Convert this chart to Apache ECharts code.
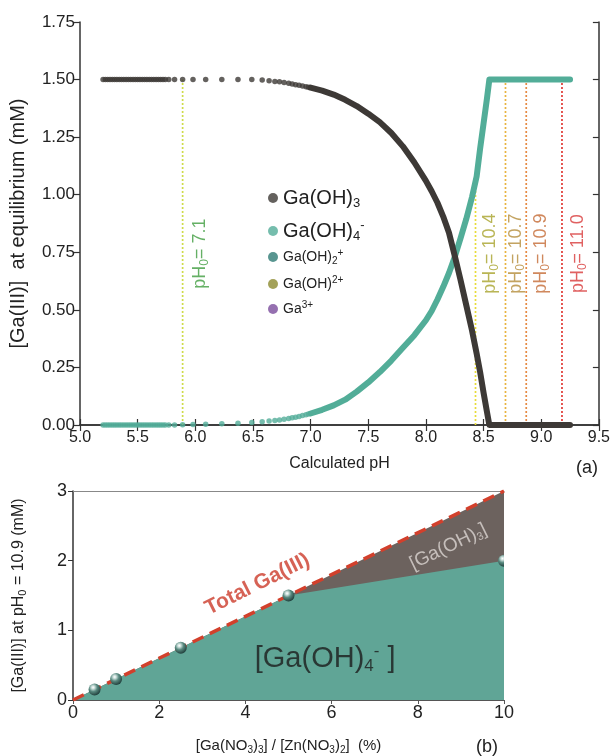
<!DOCTYPE html>
<html><head><meta charset="utf-8">
<script src="https://cdn.jsdelivr.net/npm/echarts@6/dist/echarts.min.js"></script>
<style>html,body{margin:0;padding:0;background:#fff}#c{width:613px;height:756px}</style>
</head><body><div id="c"></div>
<script>
// ================= Panel (a): speciation vs calculated pH =================
// Individually visible points (low pH region)
const dotPH = [5.20,5.22,5.24,5.26,5.28,5.30,5.32,5.34,5.36,5.38,5.40,5.42,5.44,5.46,5.48,5.50,5.52,5.54,5.56,5.58,5.60,5.62,5.64,5.66,5.68,5.70,5.72,5.74,
  5.77,5.82,5.89,5.98,6.09,6.23,6.37,6.49,6.58,6.64,6.69,6.73,6.77,6.81,6.84,6.87,6.90,6.93,6.96,6.98];
const dotGaOH3 = [1.5,1.5,1.5,1.5,1.5,1.5,1.5,1.5,1.5,1.5,1.5,1.5,1.5,1.5,1.5,1.5,1.5,1.5,1.5,1.5,1.5,1.5,1.5,1.5,1.5,1.5,1.5,1.5,
  1.5,1.5,1.5,1.5,1.5,1.5,1.5,1.5,1.498,1.495,1.492,1.49,1.487,1.484,1.481,1.478,1.475,1.472,1.469,1.467];
const dotGaOH4 = [0,0,0,0,0,0,0,0,0,0,0,0,0,0,0,0,0,0,0,0,0,0,0,0,0,0,0,0,
  0,0,0.001,0.002,0.003,0.005,0.008,0.011,0.014,0.017,0.02,0.022,0.025,0.028,0.031,0.034,0.037,0.041,0.045,0.048];
// Dense region (points merge into a continuous curve)
const linePH = [7.00,7.10,7.20,7.30,7.40,7.50,7.60,7.70,7.80,7.90,8.00,8.05,8.10,8.15,8.20,8.25,8.30,8.35,8.40,8.44,8.47,8.50,8.53,8.55,8.70,8.90,9.10,9.25];
const lineGaOH3 = [1.465,1.452,1.435,1.412,1.385,1.352,1.315,1.268,1.21,1.14,1.06,1.015,0.965,0.905,0.835,0.735,0.63,0.52,0.41,0.31,0.23,0.14,0.055,0,0,0,0,0];
const lineGaOH4 = [0.05,0.066,0.085,0.11,0.145,0.185,0.23,0.28,0.335,0.39,0.455,0.495,0.545,0.60,0.66,0.73,0.81,0.895,0.99,1.08,1.2,1.31,1.42,1.5,1.5,1.5,1.5,1.5];
// Reference lines for initial pH0
const refPH = [5.89, 8.43, 8.69, 8.87, 9.18];
const refTop = [1.5, 1.08, 1.5, 1.5, 1.5];
const refPH0 = ['7.1', '10.4', '10.7', '10.9', '11.0'];

// ================= Panel (b): Ga(III) at pH0 = 10.9 =================
const ratioPct = [0, 0.5, 1, 2.5, 5, 10];
const totalGa = [0, 0.15, 0.3, 0.75, 1.5, 3.0];
const gaOH4b = [0, 0.15, 0.3, 0.75, 1.5, 2.0];

// ---------------- styles ----------------
const FONT = "'Liberation Sans', Arial, sans-serif";
const C_DARK = '#3d3936', C_TEAL = '#52ad98';
const refLineColors = ['#cfdc4a', '#e8dc3a', '#e8b440', '#e68a44', '#e03a34'];
const refTextColors = ['#3f9c3f', '#a8a22a', '#b48c3a', '#c46a34', '#d83a3a'];
const refLabelPos = [6.04, 8.56, 8.78, 9.00, 9.32];
const refLabelY = 0.744;

const pairs = (xs, ys) => xs.map((x, i) => [x, ys[i]]);

const chart = echarts.init(document.getElementById('c'), null, {renderer: 'canvas'});

const axisDark = {lineStyle: {color: '#333', width: 1.5}};

const names = {
  g3: 'Ga(OH)3', g4: 'Ga(OH)4-', g2p: 'Ga(OH)2+', g1: 'Ga(OH)2+ ion', g0: 'Ga3+'
};
const legendFmt = {
  'Ga(OH)3': '{b|Ga(OH)}{bs|3}',
  'Ga(OH)4-': '{b|Ga(OH)}{bs|4}{bp|-}',
  'Ga(OH)2+': '{s|Ga(OH)}{ss|2}{sp|+}',
  'Ga(OH)2+ ion': '{s|Ga(OH)}{sp|2+}',
  'Ga3+': '{s|Ga}{sp|3+}'
};
const legendRich = {
  b: {fontSize: 20, lineHeight: 24, color: '#222', fontFamily: FONT},
  bs: {fontSize: 13, lineHeight: 12, verticalAlign: 'bottom', padding: [12, 0, 0, 0], color: '#222', fontFamily: FONT},
  bp: {fontSize: 13, lineHeight: 12, verticalAlign: 'top', color: '#222', fontFamily: FONT},
  s: {fontSize: 14, lineHeight: 18, color: '#222', fontFamily: FONT},
  ss: {fontSize: 10, lineHeight: 9, verticalAlign: 'bottom', padding: [9, 0, 0, 0], color: '#222', fontFamily: FONT},
  sp: {fontSize: 10, lineHeight: 9, verticalAlign: 'top', color: '#222', fontFamily: FONT}
};

const option = {
  animation: false,
  backgroundColor: '#fff',
  textStyle: {fontFamily: FONT},
  legend: [
    {
      data: [names.g3, names.g4], orient: 'vertical', left: 263, top: 180,
      icon: 'circle', itemWidth: 10, itemHeight: 10, itemGap: 8,
      formatter: n => legendFmt[n], textStyle: {rich: legendRich}, selectedMode: false
    },
    {
      data: [names.g2p, names.g1, names.g0], orient: 'vertical', left: 263, top: 242,
      icon: 'circle', itemWidth: 10, itemHeight: 10, itemGap: 9,
      formatter: n => legendFmt[n], textStyle: {rich: legendRich}, selectedMode: false
    }
  ],
  grid: [
    {left: 73, right: 12, top: 22, bottom: 331},
    {left: 73, right: 109, top: 491, bottom: 50}
  ],
  xAxis: [
    {
      gridIndex: 0, type: 'value', min: 5, max: 9.5, interval: 0.5, position: 'bottom',
      name: 'Calculated pH', nameLocation: 'middle', nameGap: 31,
      nameTextStyle: {fontSize: 16, color: '#222', fontFamily: FONT},
      axisLine: axisDark, axisTick: {inside: true, length: 6, lineStyle: {color: '#333', width: 1.2}},
      axisLabel: {fontSize: 16, color: '#222', margin: 5, formatter: v => v.toFixed(1), fontFamily: FONT},
      splitLine: {show: false}
    },
    {
      gridIndex: 0, type: 'value', min: 5, max: 9.5, interval: 0.5, position: 'top',
      axisLine: axisDark, axisTick: {inside: true, length: 6, lineStyle: {color: '#333', width: 1.2}},
      axisLabel: {show: false}, splitLine: {show: false}
    },
    {
      gridIndex: 1, type: 'value', min: 0, max: 10, interval: 2, position: 'bottom',
      name: '[Ga(NO{s|3}){s|3}] / [Zn(NO{s|3}){s|2}]  (%)', nameLocation: 'middle', nameGap: 37,
      nameTextStyle: {fontSize: 15, color: '#222', fontFamily: FONT,
        rich: {s: {fontSize: 10, verticalAlign: 'bottom', padding: [8, 0, 0, 0], color: '#222', fontFamily: FONT}}},
      axisLine: {lineStyle: {color: '#555', width: 1.2}},
      axisTick: {inside: false, length: 4, lineStyle: {color: '#555'}},
      axisLabel: {fontSize: 18, color: '#222', margin: 4, fontFamily: FONT},
      splitLine: {show: false}
    },
    {
      gridIndex: 1, type: 'value', min: 0, max: 10, position: 'top',
      axisLine: {lineStyle: {color: '#888', width: 1}}, axisTick: {show: false},
      axisLabel: {show: false}, splitLine: {show: false}
    }
  ],
  yAxis: [
    {
      gridIndex: 0, type: 'value', min: 0, max: 1.75, interval: 0.25, position: 'left',
      name: '[Ga(III)]  at equilibrium (mM)', nameLocation: 'middle', nameGap: 52, nameRotate: 90,
      nameTextStyle: {fontSize: 20, color: '#222', fontFamily: FONT},
      axisLine: axisDark, axisTick: {inside: false, length: 6, lineStyle: {color: '#333', width: 1.2}},
      axisLabel: {fontSize: 17, color: '#222', margin: 5, formatter: v => v.toFixed(2), fontFamily: FONT},
      splitLine: {show: false}
    },
    {
      gridIndex: 0, type: 'value', min: 0, max: 1.75, interval: 0.25, position: 'right',
      axisLine: axisDark, axisTick: {inside: true, length: 6, lineStyle: {color: '#333', width: 1.2}},
      axisLabel: {show: false}, splitLine: {show: false}
    },
    {
      gridIndex: 1, type: 'value', min: 0, max: 3, interval: 1, position: 'left',
      name: '[Ga(III)] at pH{s|0} = 10.9 (mM)', nameLocation: 'middle', nameGap: 45, nameRotate: 90,
      nameTextStyle: {fontSize: 16, color: '#222', fontFamily: FONT,
        rich: {s: {fontSize: 11, verticalAlign: 'bottom', padding: [8, 0, 0, 0], color: '#222', fontFamily: FONT}}},
      axisLine: {lineStyle: {color: '#333', width: 1.5}},
      axisTick: {inside: false, length: 5, lineStyle: {color: '#333'}},
      axisLabel: {fontSize: 18, color: '#222', margin: 6, fontFamily: FONT},
      splitLine: {show: false}
    }
  ],
  series: []
};

const S = option.series;
// Reference dotted lines (under curves)
refPH.forEach((x, i) => {
  S.push({
    type: 'line', xAxisIndex: 0, yAxisIndex: 0, silent: true, symbol: 'none', z: 1,
    data: [[x, 0], [x, refTop[i]]],
    lineStyle: {color: refLineColors[i], width: 1.7, type: [2, 2]}
  });
});
// Ga(OH)4- (teal)
S.push({
  name: names.g4, type: 'scatter', xAxisIndex: 0, yAxisIndex: 0, z: 3,
  data: pairs(dotPH, dotGaOH4), symbolSize: 5.5, itemStyle: {color: C_TEAL}
});
S.push({
  name: names.g4, type: 'line', xAxisIndex: 0, yAxisIndex: 0, z: 3, symbol: 'none',
  data: pairs(linePH, lineGaOH4), lineStyle: {color: C_TEAL, width: 6, cap: 'round', join: 'round'},
  itemStyle: {color: C_TEAL}
});
// Ga(OH)3 (dark)
S.push({
  name: names.g3, type: 'scatter', xAxisIndex: 0, yAxisIndex: 0, z: 4,
  data: pairs(dotPH, dotGaOH3), symbolSize: 5.5, itemStyle: {color: C_DARK}
});
S.push({
  name: names.g3, type: 'line', xAxisIndex: 0, yAxisIndex: 0, z: 4, symbol: 'none',
  data: pairs(linePH, lineGaOH3), lineStyle: {color: C_DARK, width: 6, cap: 'round', join: 'round'},
  itemStyle: {color: C_DARK}
});
// Minor species (negligible in this range; legend entries only)
S.push({name: names.g2p, type: 'scatter', xAxisIndex: 0, yAxisIndex: 0, data: [], itemStyle: {color: '#2e7b74'}});
S.push({name: names.g1, type: 'scatter', xAxisIndex: 0, yAxisIndex: 0, data: [], itemStyle: {color: '#8c8a30'}});
S.push({name: names.g0, type: 'scatter', xAxisIndex: 0, yAxisIndex: 0, data: [], itemStyle: {color: '#7b4c9c'}});
// pH0 labels
S.push({
  type: 'scatter', xAxisIndex: 0, yAxisIndex: 0, silent: true, symbolSize: 1, z: 5,
  itemStyle: {color: 'rgba(0,0,0,0)'},
  data: refPH0.map((t, i) => ({
    value: [refLabelPos[i], refLabelY],
    label: {
      show: true, position: 'inside', rotate: 90, fontSize: 18, color: refTextColors[i], fontFamily: FONT,
      formatter: 'pH{s|0}= ' + t,
      rich: {s: {fontSize: 12, color: refTextColors[i], verticalAlign: 'bottom', padding: [9, 0, 0, 0], fontFamily: FONT}}
    }
  }))
});

// ---- panel (b) ----
// Total Ga(III) region (remainder above Ga(OH)4- is Ga(OH)3)
S.push({
  type: 'line', xAxisIndex: 2, yAxisIndex: 2, symbol: 'none', silent: true, z: 2,
  data: pairs(ratioPct, totalGa), lineStyle: {width: 0}, areaStyle: {color: '#6c625e', opacity: 1}
});
// Ga(OH)4- region
S.push({
  type: 'line', xAxisIndex: 2, yAxisIndex: 2, symbol: 'none', silent: true, z: 2,
  data: pairs(ratioPct, gaOH4b), lineStyle: {width: 0}, areaStyle: {color: '#60a596', opacity: 1}
});
// Total Ga(III) dashed line
S.push({
  type: 'line', xAxisIndex: 2, yAxisIndex: 2, symbol: 'none', silent: true, z: 3,
  data: pairs(ratioPct, totalGa), lineStyle: {color: '#d2402c', width: 3.5, type: [12, 7]}
});
// Measured Ga(OH)4- points (spheres, clipped at the plot edge)
const sphereFill = new echarts.graphic.RadialGradient(0.38, 0.32, 0.7, [
  {offset: 0, color: '#ffffff'}, {offset: 0.18, color: '#cfe2de'},
  {offset: 0.5, color: '#58897f'}, {offset: 1, color: '#1f3d3a'}]);
S.push({
  type: 'custom', xAxisIndex: 2, yAxisIndex: 2, silent: true, z: 4, clip: true,
  data: pairs(ratioPct.slice(1), gaOH4b.slice(1)),
  renderItem: (params, api) => {
    const p = api.coord([api.value(0), api.value(1)]);
    return {type: 'circle', shape: {cx: p[0], cy: p[1], r: 6}, style: {fill: sphereFill}};
  }
});
// annotations for panel (b)
const annB = [
  {pos: [4.28, 1.66], text: 'Total Ga(III)', rot: 26.5, style: {fontSize: 21, fontWeight: 'bold', color: '#cc3b2a'}},
  {pos: [8.71, 2.20], text: '[Ga(OH){s|3}]', rot: 26, style: {fontSize: 19, color: '#dcd6d2'}},
  {pos: [5.85, 0.59], text: '[Ga(OH){s|4}{p|-} ]', rot: 0, style: {fontSize: 29, color: '#1c1c1c'}}
];
S.push({
  type: 'scatter', xAxisIndex: 2, yAxisIndex: 2, silent: true, symbolSize: 1, z: 6,
  itemStyle: {color: 'rgba(0,0,0,0)'},
  data: annB.map(a => ({
    value: a.pos,
    label: Object.assign({
      show: true, position: 'inside', rotate: a.rot, formatter: a.text, fontFamily: FONT,
      rich: {
        s: {fontSize: Math.round(a.style.fontSize * 0.6), color: a.style.color, verticalAlign: 'bottom', padding: [Math.round(a.style.fontSize * 0.5), 0, 0, 0], fontFamily: FONT},
        p: {fontSize: Math.round(a.style.fontSize * 0.6), color: a.style.color, verticalAlign: 'top', fontFamily: FONT}
      }
    }, a.style)
  }))
});

option.graphic = [
  {type: 'text', left: 576, top: 459, style: {text: '(a)', fontSize: 18, fill: '#222', fontFamily: FONT}},
  {type: 'text', left: 476, top: 738, style: {text: '(b)', fontSize: 18, fill: '#222', fontFamily: FONT}}
];

chart.setOption(option);
</script>
</body></html>
